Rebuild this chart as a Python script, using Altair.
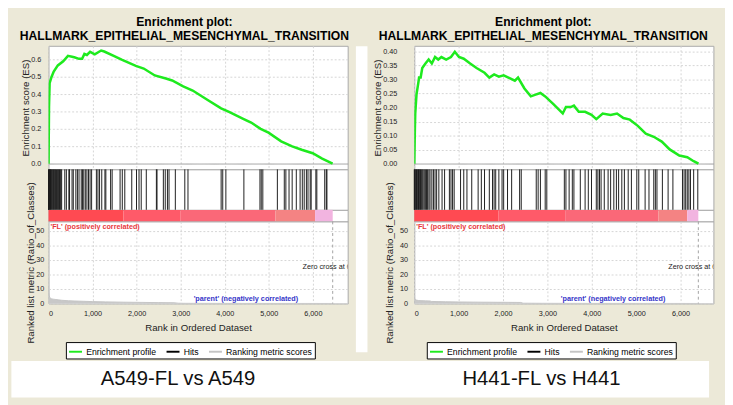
import altair as alt
import pandas as pd

BEIGE = "#ECE9D8"
GREEN = "#1EEA1E"
FONT = "Liberation Sans"
W = 310

TITLE_LINES = ["Enrichment plot:", "HALLMARK_EPITHELIAL_MESENCHYMAL_TRANSITION"]
panel_labels = ["A549-FL vs A549", "H441-FL vs H441"]
legend_items = ["Enrichment profile", "Hits", "Ranking metric scores"]
legend_colors = [GREEN, "#000000", "#C4C4C4"]
x_ticks = [0, 1000, 2000, 3000, 4000, 5000, 6000]
metric_ticks = [0, 10, 20, 30, 40, 50]
bar_levels = ["s1", "s2", "s3", "s4", "s5"]
bar_colors = ["#FF4A52", "#FF5A69", "#FA6878", "#F48383", "#F2B4E0"]

# ---------------- A549-FL vs A549 ----------------
a_es_rank = [0, 11, 25, 68, 118, 211, 333, 441, 584, 692, 763, 814, 871, 943, 1050, 1194,
             1265, 1516, 1659, 1982, 2161, 2412, 2663, 2806, 3057, 3272, 3594, 3917, 4097,
             4419, 4599, 4814, 4993, 5280, 5530, 5746, 5996, 6211, 6448]
a_es_val = [0.0, 0.328, 0.464, 0.50, 0.531, 0.567, 0.591, 0.622, 0.614, 0.605, 0.605, 0.633,
            0.627, 0.645, 0.631, 0.653, 0.647, 0.618, 0.60, 0.564, 0.549, 0.509, 0.491, 0.48,
            0.446, 0.422, 0.37, 0.319, 0.299, 0.259, 0.237, 0.201, 0.179, 0.129, 0.10, 0.08,
            0.06, 0.029, 0.0]
a_es_ticks = [0.0, 0.1, 0.2, 0.3, 0.4, 0.5, 0.6]
a_hits = [0, 8, 15, 25, 35, 45, 55, 70, 85, 100, 115, 130, 145, 160, 180, 200, 215, 230, 250,
          265, 280, 298, 369, 405, 462, 477, 534, 562, 620, 656, 692, 742, 770, 800, 835, 871,
          907, 943, 978, 1086, 1122, 1158, 1208, 1280, 1301, 1409, 1444, 1624, 1674, 1731,
          1889, 1997, 2054, 2104, 2219, 2448, 2462, 2606, 2649, 2699, 2735, 2878, 3093, 3165,
          3918, 3954, 4025, 4434, 4799, 4828, 4864, 5194, 5351, 5387, 5459, 5530, 5624, 5710,
          5760, 5803, 5853, 5889, 5939, 5961, 6068, 6090, 6269, 6305, 6319]
a_bar_start = [0, 1700, 3000, 5150, 6050]
a_bar_end = [1700, 3000, 5150, 6050, 6450]
a_metric_rank = [0, 5, 15, 30, 60, 100, 150, 220, 300, 450, 600, 800, 1000, 1300, 1700, 2100,
                 2500, 2850, 2950, 3100, 4000, 5000, 6000, 6450]
a_metric_val = [12, 8, 5.5, 4, 3.3, 3.0, 2.8, 2.5, 2.2, 1.9, 1.7, 1.5, 1.3, 1.1, 0.9, 0.75, 0.6,
                0.5, 0.2, 0.1, 0.06, 0.04, 0.02, 0.0]
a_zero_cross = 6450
a_xmax = 6790

# ---------------- H441-FL vs H441 ----------------
b_es_rank = [0, 14, 22, 50, 94, 108, 144, 180, 252, 324, 396, 468, 540, 612, 719, 827, 914,
             1007, 1115, 1259, 1403, 1583, 1691, 1799, 1906, 2014, 2122, 2266, 2338, 2482, 2626,
             2734, 2842, 2950, 3129, 3345, 3417, 3525, 3597, 3705, 3849, 3993, 4101, 4245, 4424,
             4568, 4712, 4856, 5036, 5216, 5396, 5576, 5755, 5971, 6151, 6295, 6403]
b_es_val = [0.0, 0.124, 0.179, 0.246, 0.291, 0.307, 0.307, 0.341, 0.357, 0.371, 0.357, 0.38,
            0.371, 0.38, 0.371, 0.38, 0.399, 0.38, 0.374, 0.357, 0.341, 0.324, 0.307, 0.318,
            0.31, 0.315, 0.307, 0.296, 0.307, 0.268, 0.24, 0.246, 0.252, 0.24, 0.213, 0.179,
            0.202, 0.202, 0.207, 0.185, 0.185, 0.174, 0.159, 0.179, 0.174, 0.179, 0.163, 0.157,
            0.135, 0.107, 0.096, 0.079, 0.051, 0.029, 0.023, 0.009, 0.0]
b_es_ticks = [0.0, 0.05, 0.10, 0.15, 0.20, 0.25, 0.30, 0.35, 0.40]
b_hits = [0, 10, 20, 35, 50, 65, 80, 95, 110, 125, 140, 160, 180, 200, 225, 250, 275, 300, 330,
          355, 396, 432, 468, 504, 554, 626, 683, 791, 827, 863, 899, 1043, 1115, 1187, 1295,
          1439, 1511, 1583, 1691, 1763, 1799, 1835, 1906, 1978, 2014, 2101, 2194, 2374, 2410,
          2748, 2791, 2842, 2950, 2986, 3381, 3417, 3489, 3561, 3597, 3741, 3849, 3921, 3993,
          4101, 4137, 4173, 4209, 4281, 4367, 4424, 4496, 4554, 4604, 4676, 4734, 4820, 4892,
          5014, 5058, 5201, 5288, 5396, 5432, 5468, 5590, 5719, 5827, 6043, 6079, 6115, 6151,
          6187, 6223, 6295, 6388]
b_bar_start = [0, 1900, 3400, 5500, 6150]
b_bar_end = [1900, 3400, 5500, 6150, 6400]
b_metric_rank = [0, 5, 15, 40, 100, 250, 360, 380, 700, 1000, 1500, 2000, 2400, 2450, 3000, 4000,
                 5000, 6000, 6400]
b_metric_val = [6, 4.5, 3, 2.4, 2.0, 1.8, 1.7, 1.4, 1.2, 1.05, 0.9, 0.8, 0.7, 0.2, 0.1, 0.06,
                0.04, 0.02, 0.0]
b_zero_cross = 6400
b_xmax = 6740

# annotation anchors (data units)
metric_top = 56.5
zero_text_level = 25
neg_label_rank = 4480


def make_panel(es_rank, es_val, es_domain, es_ticks, es_fmt, es_label_pad, es_title_pad,
               m_label_pad, m_title_pad, hits, bar_start, bar_end, m_rank, m_val, zero_cross,
               xmax, legend_x):
    xscale = alt.Scale(domain=[0, xmax], nice=False, zero=False)
    grid_axis = alt.Axis(title="", labels=False, ticks=False, domain=False, grid=True,
                         values=x_ticks, labelOverlap=False)
    yscale = alt.Scale(domain=es_domain, nice=False, zero=False)
    es_axis = alt.Axis(title="Enrichment score (ES)", values=es_ticks, format=es_fmt,
                       grid=True, ticks=False, labelPadding=es_label_pad,
                       titlePadding=es_title_pad, labelOverlap=False,
                       gridColor=alt.condition("datum.value === 0", alt.value("#9A9A9A"),
                                               alt.value("#D4D4D4")),
                       gridDash=alt.condition("datum.value === 0", alt.value([1, 0]),
                                              alt.value([2, 2])))

    es_df = pd.DataFrame({"rank": es_rank, "es": es_val})
    es = alt.Chart(es_df).mark_line(color=GREEN, strokeWidth=2.6, clip=True).encode(
        x=alt.X("rank:Q", scale=xscale, axis=grid_axis),
        y=alt.Y("es:Q", scale=yscale, axis=es_axis)).properties(
        width=W, height=128,
        title=alt.TitleParams(TITLE_LINES, fontSize=12.6, fontWeight="bold", font=FONT,
                              anchor="middle", frame="bounds", offset=3, lineHeight=15,
                              color="black"))

    hits_df = pd.DataFrame({"rank": hits})
    hits_chart = alt.Chart(hits_df).mark_rule(color="#1A1A1A", strokeWidth=1).encode(
        x=alt.X("rank:Q", scale=xscale, axis=None)).properties(width=W, height=42)

    bar_df = pd.DataFrame({"start": bar_start, "end": bar_end, "level": bar_levels})
    bar_chart = alt.Chart(bar_df).mark_rect().encode(
        x=alt.X("start:Q", scale=xscale, axis=None),
        x2="end:Q",
        fill=alt.Fill("level:N", scale=alt.Scale(domain=bar_levels, range=bar_colors),
                      legend=None)).properties(width=W, height=12)

    m_df = pd.DataFrame({"rank": m_rank, "metric": m_val,
                         "series": ["Ranking metric scores"] * len(m_rank)})
    mscale = alt.Scale(domain=[0, metric_top], nice=False, zero=False)
    mx_axis = alt.Axis(values=x_ticks, format=",d", title="Rank in Ordered Dataset",
                       grid=True, ticks=False, labelPadding=6, titlePadding=7,
                       labelOverlap=False)
    my_axis = alt.Axis(values=metric_ticks, title="Ranked list metric (Ratio_of_Classes)",
                       grid=True, ticks=False, labelPadding=m_label_pad,
                       titlePadding=m_title_pad, labelOverlap=False)
    area = alt.Chart(m_df).mark_area(color="#C8C8C8", clip=True).encode(
        x=alt.X("rank:Q", scale=xscale, axis=mx_axis),
        y=alt.Y("metric:Q", scale=mscale, axis=my_axis))
    line = alt.Chart(m_df).mark_line(strokeWidth=1, clip=True).encode(
        x=alt.X("rank:Q", scale=xscale, axis=mx_axis),
        y=alt.Y("metric:Q", scale=mscale, axis=my_axis),
        color=alt.Color("series:N", scale=alt.Scale(domain=legend_items, range=legend_colors),
                        legend=alt.Legend(title=None, orient="none", legendX=legend_x,
                                          legendY=125, direction="horizontal",
                                          symbolType="stroke", symbolStrokeWidth=2,
                                          symbolSize=180, labelFontSize=9, labelFont=FONT,
                                          labelColor="black", strokeColor="black",
                                          fillColor="white", padding=2, columnPadding=6,
                                          labelOffset=3, labelLimit=200)))
    zc_df = pd.DataFrame({"t": [f"Zero cross at {zero_cross}"]})
    zc_rule = alt.Chart(zc_df).mark_rule(color="#A0A0A0", strokeDash=[3, 3]).encode(
        x=alt.XDatum(zero_cross, axis=mx_axis, scale=xscale))
    zc_text = alt.Chart(zc_df).mark_text(fontSize=7.5, color="#222", clip=True).encode(
        x=alt.XDatum(zero_cross, axis=mx_axis, scale=xscale),
        y=alt.YDatum(zero_text_level, axis=my_axis, scale=mscale), text="t:N")
    pos_df = pd.DataFrame({"t": ["'FL' (positively correlated)"]})
    pos_text = alt.Chart(pos_df).mark_text(
        fontSize=7.5, fontWeight="bold", color="#E8383D", align="left", baseline="top",
        dx=2, dy=2).encode(x=alt.XDatum(0, axis=mx_axis, scale=xscale),
                           y=alt.YDatum(metric_top, axis=my_axis, scale=mscale), text="t:N")
    neg_df = pd.DataFrame({"t": ["'parent' (negatively correlated)"]})
    neg_text = alt.Chart(neg_df).mark_text(
        fontSize=7.5, fontWeight="bold", color="#3535C8", baseline="bottom", dy=-1).encode(
        x=alt.XDatum(neg_label_rank, axis=mx_axis, scale=xscale),
        y=alt.YDatum(0, axis=my_axis, scale=mscale), text="t:N")
    metric = alt.layer(area, line, zc_rule, zc_text, pos_text, neg_text).properties(
        width=W, height=85)

    return alt.vconcat(es, hits_chart, bar_chart, metric, spacing=0,
                       bounds="flush").resolve_scale(color="independent")


panel_a = make_panel(a_es_rank, a_es_val, [-0.033, 0.68], a_es_ticks, ".1f", 8, 0, 5, 0,
                     a_hits, a_bar_start, a_bar_end, a_metric_rank, a_metric_val,
                     a_zero_cross, a_xmax, 18)
panel_b = make_panel(b_es_rank, b_es_val, [-0.02, 0.42], b_es_ticks, ".2f", 18, 0, 7, 5,
                     b_hits, b_bar_start, b_bar_end, b_metric_rank, b_metric_val,
                     b_zero_cross, b_xmax, 13)


def blank(width, height, fill):
    return alt.Chart(pd.DataFrame({"s": [0]})).mark_point(opacity=0).encode(
        x=alt.X("s:Q", axis=None), y=alt.Y("s:Q", axis=None)).properties(
        width=width, height=height, view=alt.ViewBackground(fill=fill, stroke="transparent"))


lead = blank(1, 20, BEIGE)
spacer = blank(12, 317, "white")
trail = blank(1, 20, BEIGE)

row = alt.concat(lead, panel_a, spacer, panel_b, trail, columns=5, spacing=4,
                 align="none").resolve_scale(color="independent")

lab_df = pd.DataFrame({"label": panel_labels})
labels = alt.Chart(lab_df).mark_text(fontSize=21, font=FONT, color="#111").encode(
    x=alt.X("label:N", axis=None,
            scale=alt.Scale(type="point", domain=panel_labels, padding=0.46)),
    text="label:N").properties(
    width=723, height=38, view=alt.ViewBackground(fill="white", stroke="transparent"))

chart = alt.concat(row, labels, columns=1, spacing=0, align="none").resolve_scale(
    color="independent").configure(
    font=FONT, background=BEIGE,
    padding={"left": 0, "top": 0, "right": 0, "bottom": 0}
).configure_view(stroke="#A8A8A8", fill="white").configure_axis(
    labelFontSize=7.5, titleFontSize=10, labelColor="#222", titleColor="#222",
    gridColor="#D4D4D4", gridDash=[2, 2], domain=False, labelFont=FONT, titleFont=FONT,
    titleFontWeight="normal", labelOverlap=False)

chart.save("out.html", embed_options={"renderer": "svg", "actions": False})
